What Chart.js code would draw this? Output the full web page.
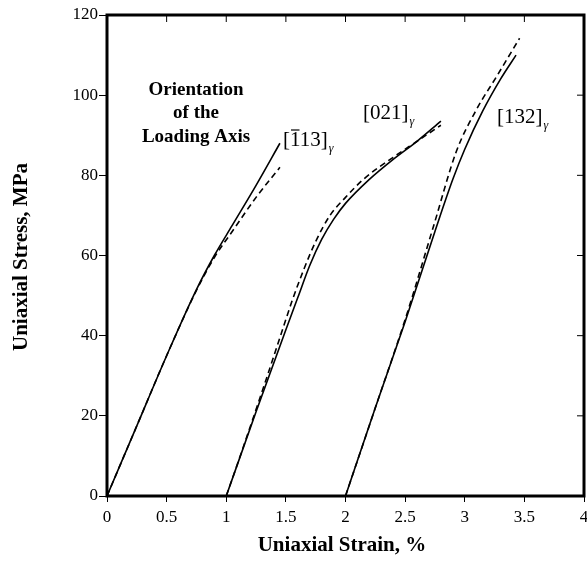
<!DOCTYPE html>
<html>
<head>
<meta charset="utf-8">
<script src="https://cdn.jsdelivr.net/npm/chart.js@4"></script>
<style>
  html, body { margin: 0; padding: 0; background: #fff; }
  #wrap { width: 587px; height: 561px; }
</style>
</head>
<body>
<div id="wrap"><canvas id="myChart" width="587" height="561"></canvas></div>
<script>
// [-113] orientation
const strainA = [0, 0.25, 0.5, 0.75, 0.9, 1.05, 1.25, 1.45];
const stressA = [0, 17.5, 35, 51.5, 60, 67.5, 77.5, 88];
const strainAd = [0, 0.25, 0.5, 0.75, 0.9, 1.05, 1.25, 1.45];
const stressAd = [0, 17.5, 35, 51.3, 59.5, 66, 74.5, 82];
// [021] orientation
const strainB = [1, 1.25, 1.5, 1.6, 1.7, 1.8, 1.9, 2.0, 2.2, 2.4, 2.6, 2.8];
const stressB = [0, 21, 41.5, 49.5, 57.5, 64, 69, 73, 79, 84, 88.5, 93.5];
const strainBd = [1, 1.1, 1.3, 1.45, 1.55, 1.65, 1.75, 1.87, 2.0, 2.15, 2.4, 2.6, 2.8];
const stressBd = [0, 8.5, 26, 39.5, 48.5, 56.5, 63.5, 70, 74.5, 79, 84.5, 88.5, 92.5];
// [132] orientation
const strainC = [2, 2.25, 2.5, 2.75, 2.9, 3.0, 3.15, 3.3, 3.43];
const stressC = [0, 22, 43.5, 66, 79, 86.5, 96, 104, 110];
const strainCd = [2, 2.25, 2.5, 2.74, 2.93, 3.1, 3.27, 3.46];
const stressCd = [0, 22, 44, 67.5, 86, 96.5, 104.8, 114.2];

const xTicks = [0, 0.5, 1, 1.5, 2, 2.5, 3, 3.5, 4];
const yTicks = [0, 20, 40, 60, 80, 100, 120];

const serif = '"Liberation Serif", "DejaVu Serif", serif';

function pts(xs, ys) {
  return xs.map((x, i) => ({ x: x, y: ys[i] }));
}

function line(xs, ys, dashed) {
  return {
    data: pts(xs, ys),
    showLine: true,
    borderColor: '#000',
    borderWidth: 1.6,
    borderDash: dashed ? [6, 4] : [],
    pointRadius: 0,
    fill: false,
    cubicInterpolationMode: 'monotone',
  };
}

// frame, inward ticks on top/right, titles and labels
const decor = {
  id: 'decor',
  afterDraw(chart) {
    const ctx = chart.ctx;
    const a = chart.chartArea;
    const xs = chart.scales.x;
    const ys = chart.scales.y;
    ctx.save();
    ctx.strokeStyle = '#000';
    ctx.lineWidth = 1;
    xTicks.forEach(v => {
      const px = xs.getPixelForValue(v);
      ctx.beginPath();
      ctx.moveTo(px, a.top);
      ctx.lineTo(px, a.top + 7);
      ctx.stroke();
    });
    yTicks.forEach(v => {
      const py = ys.getPixelForValue(v);
      ctx.beginPath();
      ctx.moveTo(a.right, py);
      ctx.lineTo(a.right - 7, py);
      ctx.stroke();
    });
    ctx.lineWidth = 3;
    ctx.strokeRect(a.left, a.top, a.right - a.left, a.bottom - a.top);

    ctx.fillStyle = '#000';
    ctx.textAlign = 'center';
    ctx.textBaseline = 'middle';
    ctx.font = 'bold 21px ' + serif;
    ctx.fillText('Uniaxial Strain, %', 342, 546);
    ctx.save();
    ctx.translate(22, 257);
    ctx.rotate(-Math.PI / 2);
    ctx.fillText('Uniaxial Stress, MPa', 0, 0);
    ctx.restore();

    ctx.font = 'bold 19px ' + serif;
    ctx.fillText('Orientation', 196, 90);
    ctx.fillText('of the', 196, 113);
    ctx.fillText('Loading Axis', 196, 137);

    ctx.textAlign = 'left';
    function dirLabel(x, y, txt, barIdx) {
      ctx.font = '21px ' + serif;
      ctx.fillText(txt, x, y);
      if (barIdx !== undefined) {
        const x0 = x + ctx.measureText(txt.slice(0, barIdx)).width;
        const w = ctx.measureText(txt[barIdx]).width;
        ctx.lineWidth = 1.2;
        ctx.beginPath();
        ctx.moveTo(x0 + 1, y - 10);
        ctx.lineTo(x0 + w - 1, y - 10);
        ctx.stroke();
      }
      const tw = ctx.measureText(txt).width;
      ctx.font = 'italic 12px ' + serif;
      ctx.fillText('\u03b3', x + tw + 1, y + 9);
    }
    dirLabel(283, 140, '[113]', 1);
    dirLabel(363, 113, '[021]');
    dirLabel(497, 117, '[132]');
    ctx.restore();
  }
};

new Chart(document.getElementById('myChart'), {
  type: 'scatter',
  data: {
    datasets: [
      line(strainA, stressA, false),
      line(strainAd, stressAd, true),
      line(strainB, stressB, false),
      line(strainBd, stressBd, true),
      line(strainC, stressC, false),
      line(strainCd, stressCd, true),
    ]
  },
  options: {
    responsive: false,
    animation: false,
    devicePixelRatio: 1,
    layout: { padding: { top: 15, right: 3, left: 0, bottom: 0 } },
    plugins: { legend: { display: false }, tooltip: { enabled: false } },
    scales: {
      x: {
        type: 'linear',
        min: 0, max: 4,
        afterFit(s) { s.height = 65; s.paddingLeft = 0; s.paddingRight = 0; },
        afterBuildTicks(s) { s.ticks = xTicks.map(v => ({ value: v })); },
        grid: { drawOnChartArea: false, drawTicks: true, tickLength: 6, color: '#000' },
        border: { display: false },
        ticks: {
          color: '#000', padding: 5,
          font: { family: serif, size: 17 },
          callback: v => String(v),
        },
      },
      y: {
        type: 'linear',
        min: 0, max: 120,
        afterFit(s) { s.width = 107; s.paddingTop = 0; s.paddingBottom = 0; },
        afterBuildTicks(s) { s.ticks = yTicks.map(v => ({ value: v })); },
        grid: { drawOnChartArea: false, drawTicks: true, tickLength: 8, color: '#000' },
        border: { display: false },
        ticks: {
          color: '#000', padding: 1,
          font: { family: serif, size: 17 },
          callback: v => String(v),
        },
      }
    }
  },
  plugins: [decor]
});
</script>
</body>
</html>
